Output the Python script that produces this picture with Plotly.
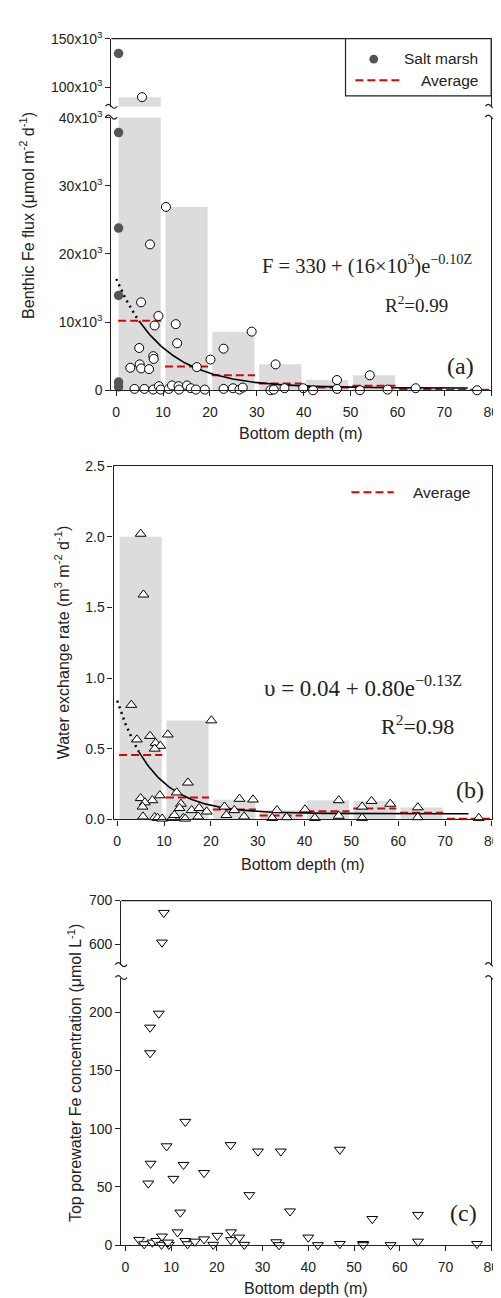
import numpy as np
import plotly.graph_objects as go

W, H = 501, 1298

# ---------------- DATA ----------------
bin_centers = [5, 15, 25, 35, 45, 55, 65, 75]

# (a) benthic Fe flux
flux_depth = [10.6, 7.2, 5.3, 9.0, 8.2, 12.7, 13.0, 4.9, 7.9, 8.0, 5.0, 3.0, 5.3, 7.0, 17.2, 20.1,
              22.9, 28.9, 34.0, 47.1, 54.1,
              3.9, 6.0, 7.9, 9.1, 9.5, 11.2, 11.9, 13.3, 13.4, 15.1, 15.9, 17.0, 18.9, 22.9, 24.9,
              26.3, 27.0, 32.9, 33.6, 35.9, 39.9, 42.0, 47.1, 52.0, 57.9, 63.9, 77.0, 5.5]
flux_value = [26900, 21400, 12900, 10900, 9500, 9700, 6900, 6200, 5000, 4600, 3800, 3300, 3200, 3100, 3400, 4500,
              6100, 8600, 3800, 1500, 2200,
              200, 200, 100, 600, 100, 200, 700, 600, 100, 700, 300, 100, 100, 200, 300,
              100, 400, 0, 100, 300, 300, 0, 200, 0, 100, 300, 0, 89500]
marsh_depth = [0.5, 0.5, 0.5, 0.5, 0.5, 0.5]
marsh_value = [134700, 37800, 23800, 13900, 1200, 500]
flux_bar = [89500, 26900, 8600, 3800, 1500, 2200, 300, 60]
flux_avg = [10200, 3500, 2200, 1000, 400, 650, 200, 60]
fitA = dict(a=330, b=16000, k=0.10)

# (b) water exchange rate
wx_depth = [5.0, 5.6, 3.0, 4.2, 7.0, 8.2, 9.2, 8.0, 10.8, 20.1, 15.1, 12.7, 5.0, 7.5, 9.1, 5.9, 5.4,
            13.6, 13.3, 15.9, 17.5, 19.1, 22.9, 26.1, 29.0, 25.0, 23.3, 27.1, 5.5, 8.0, 8.6, 9.6,
            11.7, 12.2, 14.1, 17.3, 14.5, 34.1, 33.1, 36.2, 40.1, 42.2, 47.3, 47.3, 52.3, 52.3,
            54.3, 58.3, 64.2, 64.2, 77.2]
wx_value = [2.02, 1.59, 0.81, 0.565, 0.59, 0.54, 0.52, 0.50, 0.60, 0.70, 0.26, 0.19, 0.15, 0.135, 0.17, 0.12, 0.09,
            0.11, 0.08, 0.065, 0.08, 0.055, 0.09, 0.145, 0.14, 0.065, 0.03, 0.02, 0.02, 0.015, 0.01, 0.005,
            0.01, 0.03, 0.01, 0.02, 0.005, 0.065, 0.01, 0.015, 0.07, 0.01, 0.135, 0.025, 0.09, 0.01,
            0.13, 0.11, 0.085, 0.015, 0.01]
wx_bar = [2.0, 0.70, 0.14, 0.065, 0.135, 0.13, 0.085, 0.012]
wx_avg = [0.456, 0.155, 0.07, 0.028, 0.057, 0.077, 0.047, 0.004]
fitB = dict(a=0.04, b=0.80, k=0.13)

# (c) porewater Fe
pw_depth = [8.4, 8.0, 7.3, 5.4, 5.4, 13.1, 9.0, 5.5, 5.0, 12.7, 10.5, 17.2, 12.0, 11.4, 23.0, 27.1, 23.1,
            3.0, 4.1, 5.9, 6.8, 8.0, 7.9, 9.5, 9.3, 13.1, 13.6, 15.2, 17.2, 19.2, 20.1, 23.1, 24.9, 26.0,
            29.0, 34.0, 46.9, 36.0, 54.0, 64.0, 33.0, 33.6, 40.0, 42.1, 46.9, 52.0, 52.0, 58.0, 64.0, 76.9]
pw_value = [672, 604, 199, 187, 165, 106, 85, 70, 53, 69, 57, 62, 28, 11, 86, 43, 11,
            4.5, 0.8, 2.2, 3.6, 7.4, 0.3, 0.3, 2.2, 3.6, 0.8, 3, 5, 0.3, 8, 4.3, 6.5, 0.3,
            80.5, 80.5, 82, 29, 22.5, 26, 2.5, 0, 6.5, 0, 1, 1, 0, 0, 3, 1]

xticks = [0, 10, 20, 30, 40, 50, 60, 70, 80]

# ---------------- helpers ----------------
def px(x):
    return x / W

def py(y):
    return 1 - y / H

SANS = "Liberation Sans, Arial, sans-serif"
SERIF = "Liberation Serif, Times New Roman, serif"
AXC = "#222222"
RED = "#e00000"
GRAY_BAR = "#dcdcdc"

def avg_xy(centers, vals):
    xs, ys = [], []
    for c, v in zip(centers, vals):
        xs += [c - 4.6, c + 4.6, None]
        ys += [v, v, None]
    return xs, ys

fig = go.Figure()

# ---------------- panel (a) ----------------
for ya in ["y", "y2"]:
    fig.add_trace(go.Bar(x=bin_centers, y=flux_bar, width=9, marker=dict(color=GRAY_BAR, line=dict(width=0)),
                         xaxis="x", yaxis=ya, showlegend=False, hoverinfo="skip"))
ax, ay = avg_xy(bin_centers, flux_avg)
fig.add_trace(go.Scatter(x=ax, y=ay, mode="lines", line=dict(color=RED, width=2, dash="8px,4px"),
                         xaxis="x", yaxis="y", showlegend=False))
z1 = np.linspace(0, 5, 40)
z2 = np.linspace(5, 75, 300)
fa = lambda z: fitA["a"] + fitA["b"] * np.exp(-fitA["k"] * z)
fig.add_trace(go.Scatter(x=z1, y=fa(z1), mode="lines", line=dict(color="black", width=2.5, dash="2px,4px"),
                         xaxis="x", yaxis="y", showlegend=False))
fig.add_trace(go.Scatter(x=z2, y=fa(z2), mode="lines", line=dict(color="black", width=1.6),
                         xaxis="x", yaxis="y", showlegend=False))
lo = [(d, v) for d, v in zip(flux_depth, flux_value) if v <= 40000]
hi = [(d, v) for d, v in zip(flux_depth, flux_value) if v > 40000]
circ = dict(symbol="circle", size=9, color="white", line=dict(color="black", width=1))
fig.add_trace(go.Scatter(x=[p[0] for p in lo], y=[p[1] for p in lo], mode="markers", marker=circ,
                         xaxis="x", yaxis="y", cliponaxis=False, showlegend=False))
fig.add_trace(go.Scatter(x=[p[0] for p in hi], y=[p[1] for p in hi], mode="markers", marker=circ,
                         xaxis="x", yaxis="y2", cliponaxis=False, showlegend=False))
mlo = [(d, v) for d, v in zip(marsh_depth, marsh_value) if v <= 40000]
mhi = [(d, v) for d, v in zip(marsh_depth, marsh_value) if v > 40000]
mk = dict(symbol="circle", size=9.5, color="#555555", line=dict(width=0))
fig.add_trace(go.Scatter(x=[p[0] for p in mlo], y=[p[1] for p in mlo], mode="markers", marker=mk,
                         xaxis="x", yaxis="y", cliponaxis=False, showlegend=False))
fig.add_trace(go.Scatter(x=[p[0] for p in mhi], y=[p[1] for p in mhi], mode="markers", marker=mk,
                         xaxis="x", yaxis="y2", cliponaxis=False, showlegend=False))

# ---------------- panel (b) ----------------
fig.add_trace(go.Bar(x=bin_centers, y=wx_bar, width=9, marker=dict(color=GRAY_BAR, line=dict(width=0)),
                     xaxis="x2", yaxis="y3", showlegend=False, hoverinfo="skip"))
bx, by = avg_xy(bin_centers, wx_avg)
fig.add_trace(go.Scatter(x=bx, y=by, mode="lines", line=dict(color=RED, width=2, dash="8px,4px"),
                         xaxis="x2", yaxis="y3", showlegend=False))
fb = lambda z: fitB["a"] + fitB["b"] * np.exp(-fitB["k"] * z)
z1b = np.linspace(0, 4.6, 40)
z2b = np.linspace(4.6, 75, 300)
fig.add_trace(go.Scatter(x=z1b, y=fb(z1b), mode="lines", line=dict(color="black", width=2.5, dash="2px,4px"),
                         xaxis="x2", yaxis="y3", showlegend=False))
fig.add_trace(go.Scatter(x=z2b, y=fb(z2b), mode="lines", line=dict(color="black", width=1.6),
                         xaxis="x2", yaxis="y3", showlegend=False))
fig.add_trace(go.Scatter(x=wx_depth, y=wx_value, mode="markers",
                         marker=dict(symbol="triangle-up", size=9.5, color="white", line=dict(color="black", width=1)),
                         xaxis="x2", yaxis="y3", cliponaxis=False, showlegend=False))

# ---------------- panel (c) ----------------
tri = dict(symbol="triangle-down", size=9.5, color="white", line=dict(color="black", width=1))
clo = [(d, v) for d, v in zip(pw_depth, pw_value) if v <= 230]
chi = [(d, v) for d, v in zip(pw_depth, pw_value) if v > 230]
fig.add_trace(go.Scatter(x=[p[0] for p in clo], y=[p[1] for p in clo], mode="markers", marker=tri,
                         xaxis="x3", yaxis="y4", cliponaxis=False, showlegend=False))
fig.add_trace(go.Scatter(x=[p[0] for p in chi], y=[p[1] for p in chi], mode="markers", marker=tri,
                         xaxis="x3", yaxis="y5", cliponaxis=False, showlegend=False))

# ---------------- axes ----------------
tickfont = dict(family=SANS, size=14, color=AXC)
common = dict(showgrid=False, zeroline=False, showline=True, linecolor=AXC, linewidth=1.2,
              ticks="outside", ticklen=5, tickcolor=AXC, tickwidth=1.2, tickfont=tickfont)

sup3 = lambda n: f"{n}x10<sup>3</sup>"

fig.update_layout(
    width=W, height=H, margin=dict(l=0, r=0, t=0, b=0),
    paper_bgcolor="white", plot_bgcolor="white", showlegend=False, barmode="overlay",
    xaxis=dict(domain=[px(105), px(491)], range=[-1.05, 80], anchor="y", tickvals=xticks,
               ticklabelstandoff=4, **common),
    yaxis=dict(domain=[py(377.5), py(101)], range=[0, 40000], anchor="x", mirror=True,
               tickvals=[0, 10000, 20000, 30000, 40000],
               ticktext=["0", sup3(10), sup3(20), sup3(30), sup3(40)], **common),
    yaxis2=dict(domain=[py(90), py(21)], range=[79600, 150000], anchor="x", mirror=True,
                tickvals=[100000, 150000], ticktext=[sup3(100), sup3(150)], **common),
    xaxis2=dict(domain=[px(107.3), px(491.7)], range=[-0.78, 80], anchor="y3", tickvals=xticks, mirror=True,
                ticklabelstandoff=4, **common),
    yaxis3=dict(domain=[py(812.7), py(454.3)], range=[0, 2.5], anchor="x2", mirror=True,
                tickvals=[0, 0.5, 1.0, 1.5, 2.0, 2.5], ticktext=["0.0", "0.5", "1.0", "1.5", "2.0", "2.5"], **common),
    xaxis3=dict(domain=[px(115), px(491)], range=[-0.93, 80], anchor="y4", tickvals=xticks,
                ticklabelstandoff=4, **common),
    yaxis4=dict(domain=[py(1244.3), py(973)], range=[0, 230], anchor="x3", mirror=True,
                tickvals=[0, 50, 100, 150, 200], **common),
    yaxis5=dict(domain=[py(960), py(895)], range=[553, 700], anchor="x3", mirror=True,
                tickvals=[600, 700], **common),
)

shapes = []
# top frame lines for broken panels
shapes.append(dict(type="line", xref="paper", yref="paper", x0=px(105), x1=px(491), y0=py(21), y1=py(21),
                   line=dict(color=AXC, width=1.2)))
shapes.append(dict(type="line", xref="paper", yref="paper", x0=px(115), x1=px(491), y0=py(895), y1=py(895),
                   line=dict(color=AXC, width=1.2)))

def squiggle(cx, cy):
    pts = [(cx - 6, cy), (cx - 3, cy - 4), (cx, cy), (cx + 6, cy)]
    p = [(px(a), py(b)) for a, b in pts]
    path = f"M {p[0][0]},{p[0][1]} Q {p[1][0]},{p[1][1]} {p[2][0]},{p[2][1]} T {p[3][0]},{p[3][1]}"
    return dict(type="path", xref="paper", yref="paper", path=path, line=dict(color=AXC, width=1.2))

for cx in (105, 491):
    shapes.append(squiggle(cx, 89.5))
    shapes.append(squiggle(cx, 100.5))
for cx in (115, 491):
    shapes.append(squiggle(cx, 960))
    shapes.append(squiggle(cx, 973))

# legend (a)
shapes.append(dict(type="rect", xref="paper", yref="paper", x0=px(343), x1=px(491), y0=py(79), y1=py(21),
                   line=dict(color=AXC, width=1.2), fillcolor="white"))
shapes.append(dict(type="circle", xref="paper", yref="paper", x0=px(367.2), x1=px(376.2), y0=py(46.2), y1=py(37.2),
                   line=dict(width=0), fillcolor="#555555"))
shapes.append(dict(type="line", xref="paper", yref="paper", x0=px(353), x1=px(398), y0=py(63), y1=py(63),
                   line=dict(color=RED, width=2, dash="8px,4px")))
# legend (b)
shapes.append(dict(type="line", xref="paper", yref="paper", x0=px(349), x1=px(392), y0=py(481), y1=py(481),
                   line=dict(color=RED, width=2, dash="8px,4px")))
fig.update_layout(shapes=shapes)

ann = []
def text(x, y, s, size, family=SANS, xanchor="center", angle=0):
    ann.append(dict(x=px(x), y=py(y), xref="paper", yref="paper", text=s, showarrow=False,
                    xanchor=xanchor, yanchor="middle", textangle=angle,
                    font=dict(family=family, size=size, color=AXC)))

text(480, 41.5, "Salt marsh", 15.5, xanchor="right")
text(480, 63, "Average", 15.5, xanchor="right")
text(410, 481, "Average", 15.5, xanchor="left")

text(20, 200, "Benthic Fe flux (μmol m<sup>-2</sup> d<sup>-1</sup>)", 16, angle=-90)
text(55, 633, "Water exchange rate (m<sup>3</sup> m<sup>-2</sup> d<sup>-1</sup>)", 16, angle=-90)
text(68, 1070, "Top porewater Fe concentration (μmol L<sup>-1</sup>)", 16, angle=-90)

text(298, 421, "Bottom depth (m)", 16)
text(299.5, 858, "Bottom depth (m)", 16)
text(303, 1288, "Bottom depth (m)", 16)

text(365, 250, "F = 330 + (16×10<sup>3</sup>)e<sup>−0.10Z</sup>", 20.5, family=SERIF)
text(415.5, 290, "R<sup>2</sup>=0.99", 19, family=SERIF)
text(460, 353, "(a)", 24, family=SERIF)

text(361, 678, "υ = 0.04 + 0.80e<sup>−0.13Z</sup>", 23, family=SERIF)
text(416, 717, "R<sup>2</sup>=0.98", 22, family=SERIF)
text(470, 783, "(b)", 24, family=SERIF)

text(463, 1212, "(c)", 24, family=SERIF)

fig.update_layout(annotations=ann)
fig.write_html("out.html")
